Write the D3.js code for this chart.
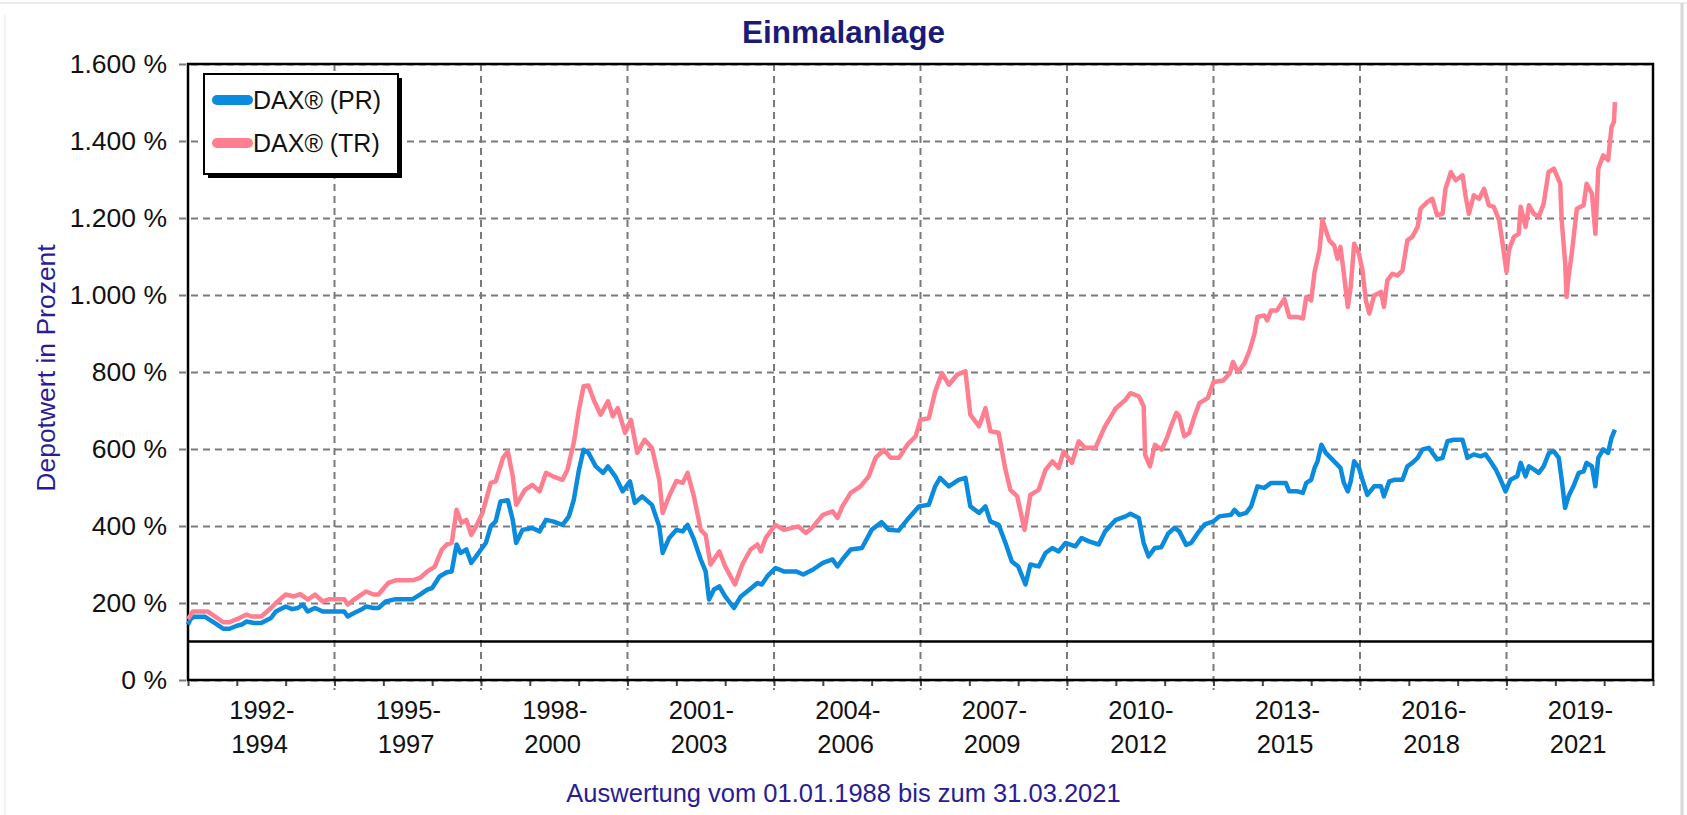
<!DOCTYPE html>
<html>
<head>
<meta charset="utf-8">
<script src="https://cdn.jsdelivr.net/npm/d3@7"></script>
<style>
  body { margin: 0; background: #fff; }
  svg text { font-family: "Liberation Sans", Arial, sans-serif; }
</style>
</head>
<body>
<div id="chart"></div>
<script>
// Einmalanlage - DAX price index vs total return index

const seriesNames = ["DAX® (PR)", "DAX® (TR)"];
const seriesColors = ["#0a8bdd", "#ff7e8f"];

const yTicks = [0, 200, 400, 600, 800, 1000, 1200, 1400, 1600];
const periodStarts = [1992, 1995, 1998, 2001, 2004, 2007, 2010, 2013, 2016, 2019];
const periodLabelsTop = ["1992-", "1995-", "1998-", "2001-", "2004-", "2007-", "2010-", "2013-", "2016-", "2019-"];
const periodLabelsBottom = ["1994", "1997", "2000", "2003", "2006", "2009", "2012", "2015", "2018", "2021"];

// [year, Depotwert in %]
const dataPR = [
  [1992.0,144],[1992.05,158],[1992.12,164],[1992.35,164],[1992.6,144],[1992.72,133],[1992.85,133],
  [1993.0,141],[1993.1,144],[1993.2,152],[1993.35,148],[1993.5,148],[1993.7,161],[1993.8,178],
  [1994.0,191],[1994.13,184],[1994.25,187],[1994.35,196],[1994.45,178],[1994.6,187],[1994.76,178],
  [1995.2,178],[1995.27,165],[1995.4,174],[1995.55,183],[1995.65,191],[1995.8,187],[1995.9,187],
  [1996.05,204],[1996.25,210],[1996.6,210],[1996.75,222],[1996.9,235],[1997.0,239],[1997.15,269],
  [1997.3,280],[1997.4,282],[1997.5,352],[1997.58,330],[1997.7,339],[1997.8,304],[1997.9,321],
  [1998.0,339],[1998.1,356],[1998.2,399],[1998.3,412],[1998.4,464],[1998.55,467],[1998.65,416],
  [1998.72,356],[1998.85,390],[1999.05,395],[1999.2,386],[1999.33,416],[1999.47,412],[1999.67,403],
  [1999.8,425],[1999.9,468],[2000.0,542],[2000.1,598],[2000.2,590],[2000.35,555],[2000.5,538],
  [2000.6,555],[2000.75,529],[2000.9,490],[2001.05,516],[2001.15,460],[2001.3,477],[2001.5,455],
  [2001.65,399],[2001.72,330],[2001.85,368],[2002.0,390],[2002.13,386],[2002.23,403],[2002.36,365],
  [2002.5,313],[2002.6,282],[2002.67,209],[2002.77,235],[2002.88,243],[2003.0,217],[2003.18,187],
  [2003.32,217],[2003.5,235],[2003.66,252],[2003.75,248],[2003.86,269],[2004.03,291],[2004.2,282],
  [2004.45,282],[2004.6,274],[2004.8,287],[2005.0,304],[2005.2,313],[2005.3,295],[2005.4,313],
  [2005.57,339],[2005.8,343],[2006.0,390],[2006.2,410],[2006.35,390],[2006.55,388],[2006.76,421],
  [2006.97,451],[2007.17,455],[2007.3,503],[2007.4,525],[2007.58,503],[2007.78,520],[2007.92,525],
  [2008.02,451],[2008.2,434],[2008.33,451],[2008.43,412],[2008.6,403],[2008.74,356],[2008.87,308],
  [2009.0,295],[2009.15,248],[2009.25,300],[2009.42,295],[2009.56,330],[2009.7,343],[2009.83,334],
  [2009.97,356],[2010.17,347],[2010.3,369],[2010.45,360],[2010.65,352],[2010.78,386],[2011.0,416],
  [2011.2,425],[2011.3,432],[2011.47,421],[2011.57,356],[2011.67,321],[2011.8,343],[2011.93,345],
  [2012.07,380],[2012.2,395],[2012.3,386],[2012.44,351],[2012.54,356],[2012.68,382],[2012.82,404],
  [2013.0,412],[2013.12,425],[2013.36,429],[2013.43,442],[2013.53,429],[2013.67,434],[2013.77,451],
  [2013.9,503],[2014.04,499],[2014.18,512],[2014.48,512],[2014.55,490],[2014.72,490],[2014.83,486],
  [2014.9,512],[2015.0,520],[2015.07,551],[2015.13,568],[2015.21,611],[2015.3,590],[2015.4,577],
  [2015.5,564],[2015.6,551],[2015.67,512],[2015.75,490],[2015.81,516],[2015.88,568],[2015.98,551],
  [2016.05,520],[2016.15,481],[2016.29,503],[2016.43,503],[2016.49,477],[2016.6,516],[2016.7,520],
  [2016.87,520],[2016.97,555],[2017.07,564],[2017.18,577],[2017.28,599],[2017.41,603],[2017.58,573],
  [2017.69,577],[2017.79,620],[2017.92,624],[2018.1,624],[2018.2,577],[2018.33,586],[2018.47,581],
  [2018.57,586],[2018.67,568],[2018.78,547],[2018.88,520],[2018.98,490],[2019.08,520],[2019.22,529],
  [2019.29,564],[2019.39,529],[2019.46,555],[2019.56,547],[2019.66,538],[2019.76,555],[2019.87,590],
  [2019.97,594],[2020.07,577],[2020.13,520],[2020.2,447],[2020.27,477],[2020.37,503],[2020.48,538],
  [2020.58,542],[2020.64,564],[2020.75,555],[2020.82,503],[2020.88,577],[2020.98,599],[2021.08,590],
  [2021.15,629],[2021.22,650]
];

const dataTR = [
  [1992.0,158],[1992.1,178],[1992.4,178],[1992.6,161],[1992.72,150],[1992.85,150],[1993.0,158],
  [1993.2,170],[1993.3,165],[1993.5,165],[1993.7,187],[1993.8,200],[1994.0,222],[1994.17,217],
  [1994.3,223],[1994.45,209],[1994.6,222],[1994.76,204],[1994.9,210],[1995.2,210],[1995.27,196],
  [1995.4,209],[1995.55,222],[1995.65,230],[1995.8,222],[1995.9,222],[1996.1,252],[1996.25,259],
  [1996.6,259],[1996.75,265],[1996.9,282],[1997.05,294],[1997.2,339],[1997.3,352],[1997.4,356],
  [1997.5,442],[1997.6,408],[1997.7,416],[1997.8,377],[1997.9,399],[1998.03,434],[1998.2,512],
  [1998.3,516],[1998.45,577],[1998.55,594],[1998.65,529],[1998.72,455],[1998.9,494],[1999.05,507],
  [1999.2,490],[1999.33,538],[1999.47,529],[1999.67,520],[1999.77,546],[1999.9,616],[2000.0,698],
  [2000.1,763],[2000.2,765],[2000.32,724],[2000.45,689],[2000.6,724],[2000.7,685],[2000.8,706],
  [2000.95,642],[2001.07,676],[2001.2,590],[2001.35,624],[2001.5,603],[2001.65,520],[2001.72,434],
  [2001.85,477],[2002.0,517],[2002.13,512],[2002.23,538],[2002.36,477],[2002.5,390],[2002.6,377],
  [2002.7,300],[2002.88,334],[2003.0,295],[2003.2,248],[2003.35,300],[2003.52,339],[2003.66,352],
  [2003.73,334],[2003.83,369],[2004.03,403],[2004.2,390],[2004.37,395],[2004.5,399],[2004.65,382],
  [2004.78,395],[2005.0,429],[2005.2,438],[2005.3,421],[2005.4,451],[2005.57,486],[2005.77,503],
  [2005.94,529],[2006.08,577],[2006.25,598],[2006.39,577],[2006.56,577],[2006.73,611],[2006.9,633],
  [2007.0,676],[2007.17,680],[2007.3,749],[2007.44,797],[2007.58,767],[2007.75,793],[2007.92,802],
  [2008.02,689],[2008.2,659],[2008.33,706],[2008.43,646],[2008.6,642],[2008.74,546],[2008.84,494],
  [2008.98,477],[2009.13,390],[2009.25,481],[2009.42,494],[2009.56,546],[2009.7,568],[2009.83,551],
  [2009.93,594],[2010.1,564],[2010.24,620],[2010.37,603],[2010.58,603],[2010.78,659],[2011.0,706],
  [2011.2,728],[2011.3,745],[2011.47,737],[2011.57,711],[2011.6,585],[2011.7,555],[2011.8,611],
  [2011.94,598],[2012.05,630],[2012.13,659],[2012.24,694],[2012.3,685],[2012.4,633],[2012.5,641],
  [2012.6,681],[2012.71,719],[2012.88,732],[2013.0,774],[2013.2,778],[2013.33,796],[2013.4,826],
  [2013.5,800],[2013.63,822],[2013.74,856],[2013.84,900],[2013.9,943],[2014.04,947],[2014.1,934],
  [2014.18,960],[2014.3,960],[2014.45,990],[2014.55,943],[2014.72,943],[2014.83,939],[2014.9,995],
  [2015.0,986],[2015.07,1060],[2015.17,1116],[2015.23,1194],[2015.3,1168],[2015.37,1142],[2015.47,1129],
  [2015.54,1094],[2015.6,1125],[2015.67,1055],[2015.75,969],[2015.81,1021],[2015.88,1133],[2015.98,1107],
  [2016.05,1064],[2016.12,986],[2016.19,952],[2016.29,999],[2016.43,1008],[2016.49,969],[2016.56,1038],
  [2016.66,1055],[2016.77,1051],[2016.87,1064],[2016.97,1142],[2017.07,1151],[2017.18,1177],[2017.24,1224],
  [2017.38,1242],[2017.48,1250],[2017.58,1207],[2017.69,1211],[2017.75,1276],[2017.86,1319],[2017.96,1298],
  [2018.1,1311],[2018.16,1259],[2018.23,1211],[2018.33,1259],[2018.44,1250],[2018.54,1276],[2018.64,1233],
  [2018.74,1229],[2018.85,1194],[2018.91,1142],[2019.0,1060],[2019.05,1116],[2019.15,1151],[2019.25,1159],
  [2019.29,1229],[2019.39,1177],[2019.46,1233],[2019.56,1211],[2019.66,1203],[2019.76,1237],[2019.86,1319],
  [2019.97,1328],[2020.1,1289],[2020.13,1194],[2020.2,1086],[2020.23,995],[2020.27,1047],[2020.34,1112],
  [2020.44,1224],[2020.58,1233],[2020.64,1289],[2020.75,1263],[2020.82,1159],[2020.88,1328],[2020.98,1363],
  [2021.08,1350],[2021.15,1436],[2021.2,1450],[2021.22,1501]
];

function createChart() {
    const W = 1687, H = 815;
    const margin = {top: 64, right: 34, bottom: 135, left: 188};
    const width = W - margin.left - margin.right;
    const height = H - margin.top - margin.bottom;

    const svg = d3.select("#chart").append("svg")
        .attr("width", W)
        .attr("height", H);

    // faint outer frame (top and right edges show in the original)
    svg.append("line")
        .attr("x1", 0).attr("x2", W)
        .attr("y1", 3).attr("y2", 3)
        .attr("stroke", "#ececec").attr("stroke-width", 2);
    svg.append("line")
        .attr("x1", W - 5).attr("x2", W - 5)
        .attr("y1", 3).attr("y2", H)
        .attr("stroke", "#d8d8d8").attr("stroke-width", 3);
    svg.append("line")
        .attr("x1", 5).attr("x2", 5)
        .attr("y1", 15).attr("y2", H)
        .attr("stroke", "#f2f2f2").attr("stroke-width", 2);

    const g = svg.append("g")
        .attr("transform", `translate(${margin.left},${margin.top})`);

    const x = d3.scaleLinear().domain([1992, 2022]).range([0, width]);
    const y = d3.scaleLinear().domain([0, 1600]).range([height, 0]);

    const de = d3.formatLocale({decimal: ",", thousands: ".", grouping: [3], currency: ["", " €"]});
    const fmt = v => de.format(",")(v) + " %";

    // horizontal grid + y labels
    g.append("g")
        .attr("class", "grid")
        .call(d3.axisLeft(y).tickValues(yTicks).tickSize(-width).tickPadding(21).tickFormat(fmt))
        .call(a => a.select(".domain").remove())
        .call(a => a.selectAll(".tick line")
            .attr("x1", -9)
            .attr("stroke", "#7a7a7a")
            .attr("stroke-width", 2)
            .attr("stroke-dasharray", "7,5"))
        .call(a => a.selectAll(".tick text")
            .attr("fill", "#111")
            .style("font-size", "26.5px"));

    // vertical grid (extends below the axis)
    g.append("g")
        .selectAll("line")
        .data(periodStarts.slice(1))
        .enter()
        .append("line")
        .attr("x1", d => x(d)).attr("x2", d => x(d))
        .attr("y1", 0).attr("y2", height + 10)
        .attr("stroke", "#7a7a7a")
        .attr("stroke-width", 2)
        .attr("stroke-dasharray", "7,5");

    // yearly minor ticks
    g.append("g")
        .attr("transform", `translate(0,${height})`)
        .call(d3.axisBottom(x).tickValues(d3.range(1992, 2023)).tickSize(6).tickFormat(""))
        .call(a => a.select(".domain").remove())
        .call(a => a.selectAll(".tick line").attr("stroke", "#444").attr("stroke-width", 2));

    // x labels, two lines, block centred in each 3-year period
    const labels = g.append("g")
        .selectAll("text")
        .data(periodStarts)
        .enter()
        .append("text")
        .attr("x", d => x(d + 1.5) - 32)
        .attr("y", height + 39)
        .attr("fill", "#111")
        .style("font-size", "25.5px");
    labels.append("tspan").text((d, i) => periodLabelsTop[i]);
    labels.append("tspan")
        .attr("x", d => x(d + 1.5) - 30)
        .attr("dy", 34)
        .text((d, i) => periodLabelsBottom[i]);

    // 100 % base line
    g.append("line")
        .attr("x1", 0).attr("x2", width)
        .attr("y1", y(100)).attr("y2", y(100))
        .attr("stroke", "#000")
        .attr("stroke-width", 2.5);

    // plot frame
    g.append("rect")
        .attr("width", width)
        .attr("height", height)
        .attr("fill", "none")
        .attr("stroke", "#000")
        .attr("stroke-width", 2.5);

    // series lines
    const line = d3.line()
        .x(d => x(d[0]))
        .y(d => y(d[1]));

    [dataPR, dataTR].forEach((data, i) => {
        g.append("path")
            .datum(data)
            .attr("fill", "none")
            .attr("stroke", seriesColors[i])
            .attr("stroke-width", 4.5)
            .attr("stroke-linejoin", "round")
            .attr("d", line);
    });

    // legend with drop shadow
    const legend = g.append("g").attr("transform", "translate(16,10)");
    legend.append("rect")
        .attr("x", 4).attr("y", 4)
        .attr("width", 194).attr("height", 100)
        .attr("fill", "#000");
    legend.append("rect")
        .attr("width", 194).attr("height", 100)
        .attr("fill", "#fff")
        .attr("stroke", "#000")
        .attr("stroke-width", 2);

    seriesNames.forEach((name, i) => {
        const row = legend.append("g")
            .attr("transform", `translate(0,${26 + i * 43})`);
        row.append("line")
            .attr("x1", 13).attr("x2", 44)
            .attr("stroke", seriesColors[i])
            .attr("stroke-width", 10)
            .attr("stroke-linecap", "round");
        row.append("text")
            .attr("x", 49)
            .attr("y", 9)
            .attr("fill", "#111")
            .style("font-size", "25px")
            .text(name);
    });

    // title
    svg.append("text")
        .attr("x", W / 2)
        .attr("y", 43)
        .attr("text-anchor", "middle")
        .attr("fill", "#1c1a78")
        .style("font-size", "31.5px")
        .style("font-weight", "bold")
        .text("Einmalanlage");

    // y axis title
    svg.append("text")
        .attr("transform", `translate(46,${margin.top + height / 2 - 4}) rotate(-90)`)
        .attr("text-anchor", "middle")
        .attr("dominant-baseline", "central")
        .attr("fill", "#2a1c96")
        .style("font-size", "26.5px")
        .text("Depotwert in Prozent");

    // footer
    svg.append("text")
        .attr("x", W / 2)
        .attr("y", 802)
        .attr("text-anchor", "middle")
        .attr("fill", "#2a1c96")
        .style("font-size", "25.5px")
        .text("Auswertung vom 01.01.1988 bis zum 31.03.2021");
}

createChart();
</script>
</body>
</html>
